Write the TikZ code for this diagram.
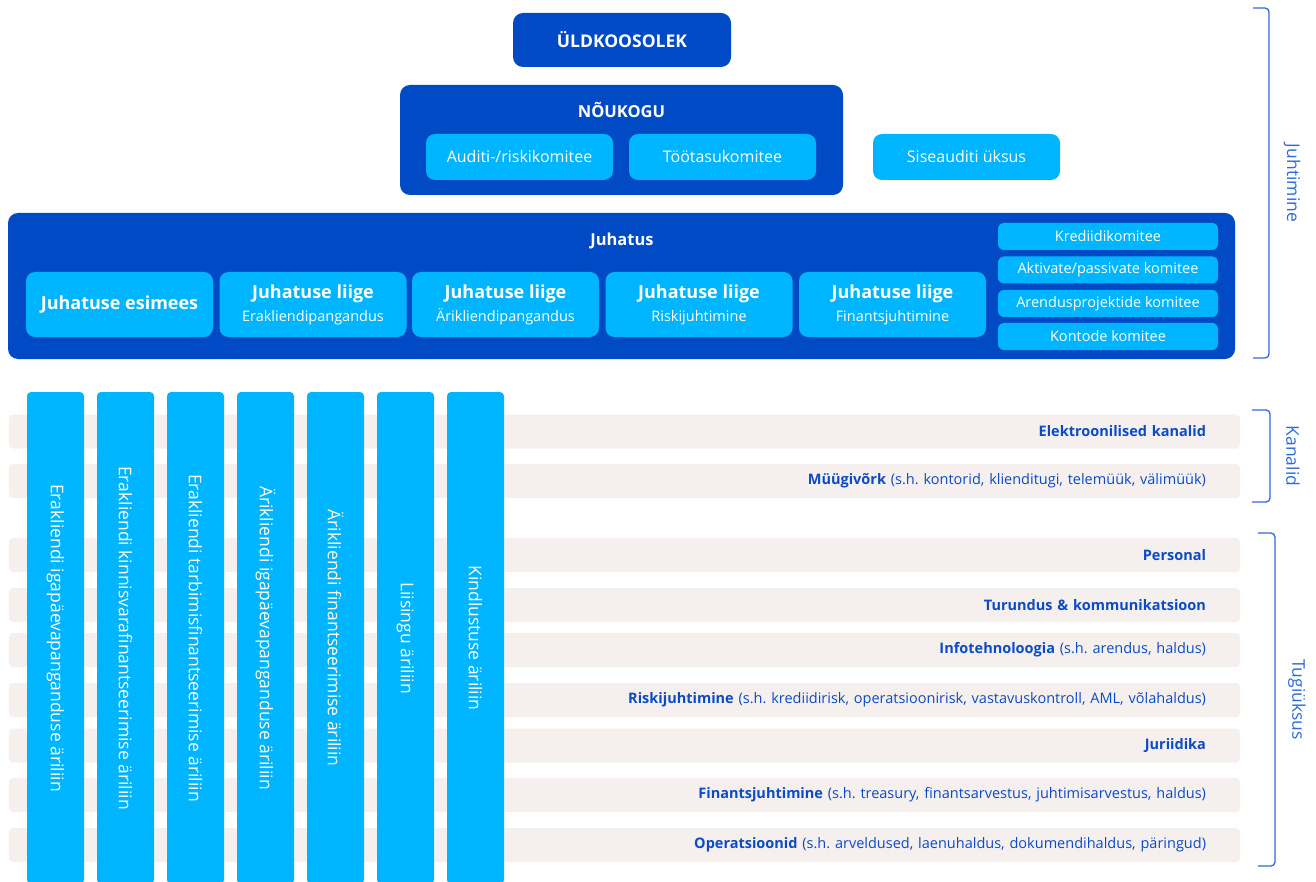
\documentclass[tikz,border=0pt]{standalone}
\usepackage{fontspec}
\setmainfont{Open Sans}
\frenchspacing
\definecolor{tumesinine}{HTML}{004BC5}
\definecolor{helesinine}{HTML}{00B5FF}
\definecolor{hall}{HTML}{F5F0EE}
\definecolor{tekst}{HTML}{0B4BC6}
\definecolor{sulg}{HTML}{2F6BDB}

\begin{document}
\begin{tikzpicture}[x=1pt,y=-1pt,
  every node/.style={inner sep=0pt,font=\fontsize{16}{19}\selectfont},
  tume/.style={fill=tumesinine,rounded corners=10pt,text=white},
  hele/.style={fill=helesinine,rounded corners=9pt,text=white},
  pealkiri/.style={text=white,font=\bfseries\fontsize{16.5}{19}\selectfont},
  komitee/.style={hele,rounded corners=6pt,minimum width=220pt,minimum height=27pt,font=\fontsize{14.5}{16}\selectfont},
  liige/.style={hele,minimum width=187pt,minimum height=65pt,align=center},
  rida/.style={fill=hall,rounded corners=4pt,minimum height=34pt,text width=1163pt,inner xsep=34pt,align=right,text=tekst,font=\fontsize{14.5}{17}\selectfont},
  liin/.style={hele,rounded corners=4pt,rotate=-90,minimum width=492pt,minimum height=57pt,font=\fontsize{17.5}{20}\selectfont},
  sulg/.style={draw=sulg,line width=1.3pt,rounded corners=4pt},
  silt/.style={text=sulg,rotate=-90,font=\fontsize{17.5}{20}\selectfont}]

\useasboundingbox[fill=white] (0,0) rectangle (1316,882);

% juhtimine
\node[tume,minimum width=218pt,minimum height=54pt,font=\bfseries\fontsize{17.5}{20}\selectfont](yk) at (622,40){ÜLDKOOSOLEK};
\node[tume,minimum width=443pt,minimum height=110pt](nk) at (621.5,140){};
\node[pealkiri](nkt) at (621.5,110){NÕUKOGU};
\node[hele,minimum width=187pt,minimum height=46pt](audit) at (519.5,157){Auditi-/riskikomitee};
\node[hele,minimum width=187pt,minimum height=46pt](tasu) at (722.5,157){Töötasukomitee};
\node[hele,minimum width=187pt,minimum height=46pt](sise) at (966.5,157){Siseauditi üksus};

\node[tume,minimum width=1227pt,minimum height=146pt](jh) at (621.5,286){};
\node[pealkiri](jht) at (622,241){Juhatus};
\node[liige,font=\bfseries\fontsize{18}{22}\selectfont](esimees) at (119.5,304.5){Juhatuse esimees};
\node[liige](liige1) at (313,304.5){{\bfseries\fontsize{18}{22}\selectfont Juhatuse liige}\\[4pt]{\fontsize{14.5}{17}\selectfont Erakliendipangandus}};
\node[liige](liige2) at (505.5,304.5){{\bfseries\fontsize{18}{22}\selectfont Juhatuse liige}\\[4pt]{\fontsize{14.5}{17}\selectfont Ärikliendipangandus}};
\node[liige](liige3) at (699,304.5){{\bfseries\fontsize{18}{22}\selectfont Juhatuse liige}\\[4pt]{\fontsize{14.5}{17}\selectfont Riskijuhtimine}};
\node[liige](liige4) at (892.5,304.5){{\bfseries\fontsize{18}{22}\selectfont Juhatuse liige}\\[4pt]{\fontsize{14.5}{17}\selectfont Finantsjuhtimine}};
\node[komitee](k1) at (1108,236.5){Krediidikomitee};
\node[komitee](k2) at (1108,270){Aktivate/passivate komitee};
\node[komitee](k3) at (1108,303.5){Arendusprojektide komitee};
\node[komitee](k4) at (1108,336.5){Kontode komitee};

% kanalid ja tugiyksused
\node[rida](r1) at (624.5,431.5){\textbf{Elektroonilised kanalid}};
\node[rida](r2) at (624.5,481){\textbf{Müügivõrk} (s.h. kontorid, klienditugi, telemüük, välimüük)};
\node[rida](r3) at (624.5,555){\textbf{Personal}};
\node[rida](r4) at (624.5,605){\textbf{Turundus \& kommunikatsioon}};
\node[rida](r5) at (624.5,650){\textbf{Infotehnoloogia} (s.h. arendus, haldus)};
\node[rida](r6) at (624.5,700){\textbf{Riskijuhtimine} (s.h. krediidirisk, operatsioonirisk, vastavuskontroll, AML, võlahaldus)};
\node[rida](r7) at (624.5,745.5){\textbf{Juriidika}};
\node[rida](r8) at (624.5,795){\textbf{Finantsjuhtimine} (s.h. treasury, finantsarvestus, juhtimisarvestus, haldus)};
\node[rida](r9) at (624.5,845){\textbf{Operatsioonid} (s.h. arveldused, laenuhaldus, dokumendihaldus, päringud)};

% ariliinid
\node[liin](a1) at (55.5,638){Erakliendi igapäevapanganduse äriliin};
\node[liin](a2) at (125.5,638){Erakliendi kinnisvarafinantseerimise äriliin};
\node[liin](a3) at (195.5,638){Erakliendi tarbimisfinantseerimise äriliin};
\node[liin](a4) at (265.5,638){Ärikliendi igapäevapanganduse äriliin};
\node[liin](a5) at (335.5,638){Ärikliendi finantseerimise äriliin};
\node[liin](a6) at (405.5,638){Liisingu äriliin};
\node[liin](a7) at (475.5,638){Kindlustuse äriliin};

% sulud
\draw[sulg](1253,8)--(1269,8)--(1269,358)--(1253,358);
\draw[sulg](1252,410)--(1270,410)--(1270,502)--(1252,502);
\draw[sulg](1258,533)--(1275,533)--(1275,866)--(1258,866);
\node[silt](juht) at (1292,183){Juhtimine};
\node[silt](kan) at (1293,456){Kanalid};
\node[silt](tugi) at (1297,699.5){Tugiüksus};
\end{tikzpicture}
\end{document}
